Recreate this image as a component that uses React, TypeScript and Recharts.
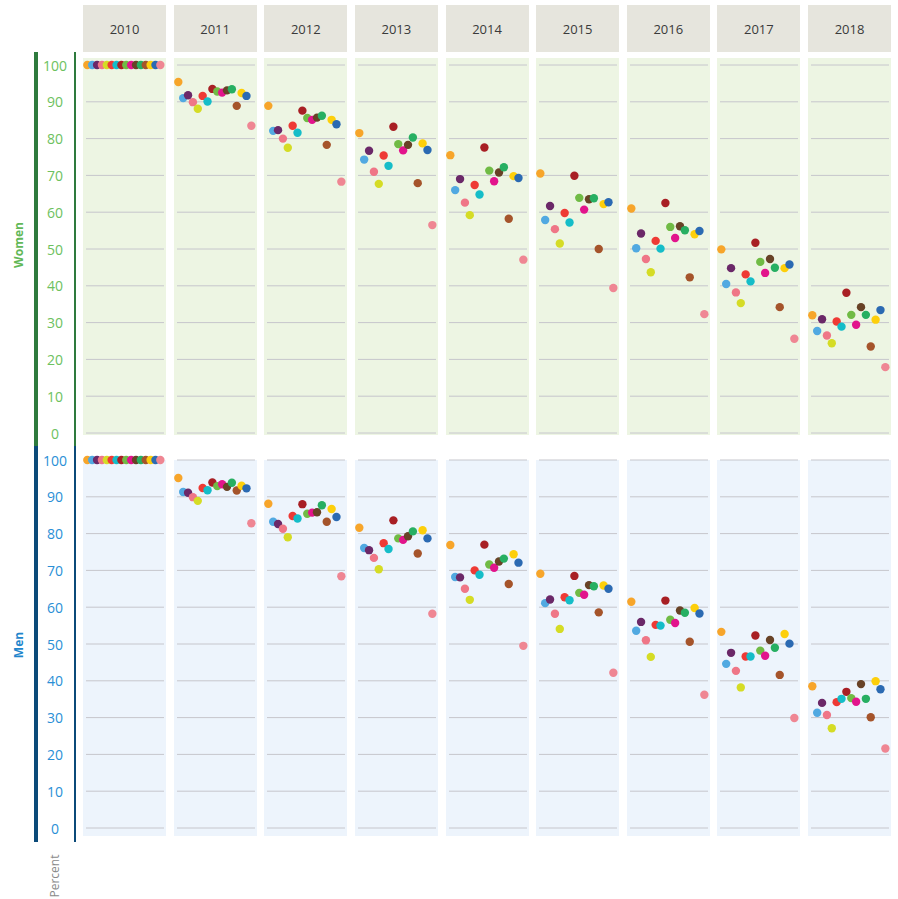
import { ScatterChart, Scatter, XAxis, YAxis, CartesianGrid } from 'recharts';

const YEARS = ['2010', '2011', '2012', '2013', '2014', '2015', '2016', '2017', '2018'];
const Y_TICKS = [0, 10, 20, 30, 40, 50, 60, 70, 80, 90, 100];

// one colour per group, in the left-to-right order used inside every panel
const GROUP_COLORS = [
  '#f7a52a', '#51a9e1', '#6b2868', '#ef7687', '#d5dc25', '#ee3a35', '#15bdc8', '#a81f24',
  '#70bb45', '#e2148c', '#684226', '#27af62', '#a5542b', '#fdcf0b', '#2b6ab2', '#ef8693',
];

const WOMEN_2010 = [100, 100, 100, 100, 100, 100, 100, 100, 100, 100, 100, 100, 100, 100, 100, 100];
const WOMEN_2011 = [95.4, 91.0, 91.8, 89.9, 88.1, 91.6, 90.1, 93.5, 92.8, 92.5, 93.1, 93.4, 88.9, 92.4, 91.6, 83.5];
const WOMEN_2012 = [88.9, 82.1, 82.3, 80.0, 77.5, 83.5, 81.6, 87.6, 85.6, 85.1, 85.7, 86.2, 78.3, 85.1, 83.9, 68.3];
const WOMEN_2013 = [81.5, 74.3, 76.7, 71.0, 67.7, 75.4, 72.6, 83.2, 78.5, 76.8, 78.3, 80.3, 67.9, 78.7, 76.9, 56.5];
const WOMEN_2014 = [75.5, 66.0, 69.0, 62.6, 59.2, 67.4, 64.8, 77.6, 71.3, 68.4, 70.8, 72.2, 58.2, 69.8, 69.3, 47.1];
const WOMEN_2015 = [70.5, 57.9, 61.7, 55.4, 51.5, 59.8, 57.2, 69.9, 63.9, 60.7, 63.5, 63.8, 50.0, 62.2, 62.7, 39.4];
const WOMEN_2016 = [61.0, 50.2, 54.2, 47.3, 43.7, 52.2, 50.1, 62.5, 56.0, 53.0, 56.2, 55.1, 42.3, 54.0, 54.9, 32.3];
const WOMEN_2017 = [49.9, 40.5, 44.8, 38.2, 35.3, 43.1, 41.2, 51.7, 46.5, 43.5, 47.3, 44.9, 34.2, 44.8, 45.8, 25.6];
const WOMEN_2018 = [32.0, 27.7, 30.9, 26.5, 24.4, 30.3, 28.9, 38.1, 32.1, 29.4, 34.2, 32.1, 23.5, 30.8, 33.4, 17.9];

const MEN_2010 = [100, 100, 100, 100, 100, 100, 100, 100, 100, 100, 100, 100, 100, 100, 100, 100];
const MEN_2011 = [95.1, 91.3, 91.1, 89.9, 88.9, 92.4, 91.8, 93.9, 92.9, 93.4, 92.7, 93.8, 91.7, 93.0, 92.3, 82.8];
const MEN_2012 = [88.1, 83.2, 82.6, 81.3, 79.0, 84.8, 84.1, 88.0, 85.4, 85.7, 85.8, 87.7, 83.2, 86.7, 84.5, 68.4];
const MEN_2013 = [81.6, 76.1, 75.5, 73.4, 70.3, 77.4, 75.8, 83.6, 78.7, 78.3, 79.3, 80.6, 74.6, 80.9, 78.7, 58.2];
const MEN_2014 = [76.9, 68.2, 68.1, 65.0, 62.0, 70.0, 68.8, 77.0, 71.6, 70.7, 72.4, 73.2, 66.3, 74.4, 72.1, 49.5];
const MEN_2015 = [69.1, 61.1, 62.1, 58.2, 54.1, 62.7, 61.9, 68.5, 63.9, 63.4, 66.0, 65.7, 58.6, 65.9, 65.0, 42.2];
const MEN_2016 = [61.5, 53.6, 56.0, 51.0, 46.5, 55.2, 55.0, 61.8, 56.6, 55.7, 59.1, 58.5, 50.6, 59.8, 58.3, 36.2];
const MEN_2017 = [53.3, 44.6, 47.6, 42.7, 38.2, 46.6, 46.6, 52.3, 48.2, 46.8, 51.1, 49.0, 41.6, 52.7, 50.1, 29.9];
const MEN_2018 = [38.5, 31.3, 34.0, 30.7, 27.1, 34.2, 35.1, 37.0, 35.3, 34.3, 39.1, 35.1, 30.1, 39.9, 37.7, 21.6];

const WOMEN_BY_YEAR = [WOMEN_2010, WOMEN_2011, WOMEN_2012, WOMEN_2013, WOMEN_2014, WOMEN_2015, WOMEN_2016, WOMEN_2017, WOMEN_2018];
const MEN_BY_YEAR = [MEN_2010, MEN_2011, MEN_2012, MEN_2013, MEN_2014, MEN_2015, MEN_2016, MEN_2017, MEN_2018];

const PANEL_W = 83;
const PANEL_STEP = 90.625;
const FIRST_X = 83;
const CHART_H = 393;
const AXIS_W = 83; // room left of the first panel for the tick labels

const ROWS = [
  {
    label: 'Women', values: WOMEN_BY_YEAR, top: 58, height: 377, chartTop: -10,
    bg: '#edf5e3', tickColor: '#6dc160', labelColor: '#62b857', bar: '#2e7a3d',
    barTop: 52, barH: 394, labelY: 245,
  },
  {
    label: 'Men', values: MEN_BY_YEAR, top: 460, height: 376, chartTop: -17,
    bg: '#edf4fc', tickColor: '#2a8fd6', labelColor: '#1f86cc', bar: '#0b4a79',
    barTop: 446, barH: 396, labelY: 645,
  },
];

const Dot = (props: any) => (
  <circle cx={props.cx} cy={props.cy} r={4.2} fill={props.payload.color} />
);

function Panel({ values, axisColor }: { values: number[]; axisColor?: string }) {
  const data = values.map((v, i) => ({ i, v, color: GROUP_COLORS[i] }));
  const withAxis = !!axisColor;
  return (
    <ScatterChart
      width={PANEL_W + (withAxis ? AXIS_W : 0)}
      height={CHART_H}
      margin={{ top: 17, bottom: 8, left: 3, right: 2 }}
      style={{ overflow: 'visible' }}
    >
      <CartesianGrid vertical={false} stroke="#c6c6cc" strokeWidth={1} />
      <XAxis type="number" dataKey="i" domain={[-0.27, 15.75]} hide />
      <YAxis
        type="number"
        dataKey="v"
        domain={[0, 100]}
        ticks={Y_TICKS}
        interval={0}
        hide={!withAxis}
        width={AXIS_W}
        axisLine={false}
        tickLine={false}
        tick={({ y, payload }: any) => (
          <text x={55} y={y} textAnchor="middle" dominantBaseline="central" fontSize={14} fill={axisColor}>
            {payload.value}
          </text>
        )}
      />
      <Scatter data={data} shape={Dot} isAnimationActive={false} />
    </ScatterChart>
  );
}

export default function App() {
  return (
    <div
      style={{
        position: 'absolute', left: 0, top: 0, width: 898, height: 899,
        background: '#fff', fontFamily: '"Open Sans", sans-serif', overflow: 'hidden',
      }}
    >
      {YEARS.map((year, c) => (
        <div
          key={year}
          style={{
            position: 'absolute', left: FIRST_X + c * PANEL_STEP, top: 5, width: PANEL_W, height: 47,
            background: '#e6e5dd', display: 'flex', alignItems: 'center', justifyContent: 'center',
            fontSize: 13, color: '#3a3a3a',
          }}
        >
          {year}
        </div>
      ))}

      {ROWS.map((row) => (
        <div key={row.label}>
          <div style={{ position: 'absolute', left: 34, top: row.barTop, width: 4, height: row.barH, background: row.bar }} />
          <div style={{ position: 'absolute', left: 74, top: row.barTop, width: 2, height: row.barH, background: row.bar }} />
          <div
            style={{
              position: 'absolute', left: 18, top: row.labelY, transform: 'translate(-50%, -50%) rotate(-90deg)',
              color: row.labelColor, fontWeight: 700, fontSize: 12,
            }}
          >
            {row.label}
          </div>
          {row.values.map((vals, c) => (
            <div
              key={c}
              style={{
                position: 'absolute', left: FIRST_X + c * PANEL_STEP, top: row.top,
                width: PANEL_W, height: row.height, background: row.bg,
              }}
            >
              <div style={{ position: 'absolute', left: c === 0 ? -AXIS_W : 0, top: row.chartTop }}>
                <Panel values={vals} axisColor={c === 0 ? row.tickColor : undefined} />
              </div>
            </div>
          ))}
        </div>
      ))}

      <div
        style={{
          position: 'absolute', left: 54, top: 876, transform: 'translate(-50%, -50%) rotate(-90deg)',
          color: '#8a8a8a', fontSize: 12,
        }}
      >
        Percent
      </div>
    </div>
  );
}
